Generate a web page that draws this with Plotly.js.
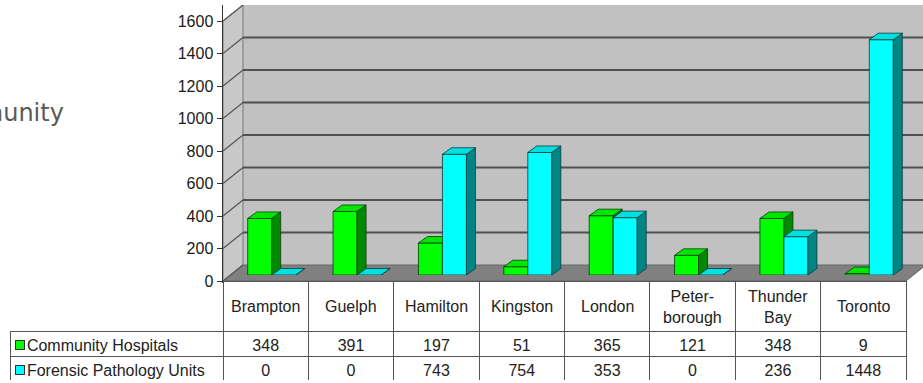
<!DOCTYPE html>
<html>
<head>
<meta charset="utf-8">
<script src="https://cdn.plot.ly/plotly-3.0.1.min.js"></script>
<style>html,body{margin:0;padding:0;background:#fff;}#chart{width:923px;height:383px;}</style>
</head>
<body>
<div id="chart"></div>
<script>
// ---- data ----
const cities = ['Brampton', 'Guelph', 'Hamilton', 'Kingston', 'London', 'Peter-<br>borough', 'Thunder<br>Bay', 'Toronto'];
const communityHospitals = [348, 391, 197, 51, 365, 121, 348, 9];
const forensicUnits = [0, 0, 743, 754, 353, 0, 236, 1448];
const seriesNames = ['Community Hospitals', 'Forensic Pathology Units'];
const yTickValues = [0, 200, 400, 600, 800, 1000, 1200, 1400, 1600];
const sideText = 'Community';

// ---- geometry / style ----
const W = 923, H = 383;
const FRONT_L = 223, FRONT_R = 906, FRONT_BASE = 281;
const TABLE_L = 10, HEADER_BOTTOM = 331, TABLE_BOTTOM = 381;
const PX_PER_UNIT = 260 / 1600;
const WALL_DX = 20, WALL_DY = 16;
const BAR_SHIFT = 6;
const BAR_DX_PX = 9, BAR_DY_PX = 6.5, BAR_W_PX = 24;
const catPx = (FRONT_R - FRONT_L) / cities.length;
const barW = BAR_W_PX / catPx;
const dxU = BAR_DX_PX / catPx;
const dyU = BAR_DY_PX / PX_PER_UNIT;
const wallDyU = WALL_DY / PX_PER_UNIT;
const px = x => x / W;
const py = y => 1 - y / H;
const idx = cities.map((_, i) => i);
const FONT = 'Liberation Sans, Arial, sans-serif';
const FS = 16;
const COLORS = {
  green: {front: '#00ff00', side: '#008a00', top: '#00e600', edge: '#0a3a0a'},
  cyan: {front: '#00ffff', side: '#008585', top: '#00e0e0', edge: '#0a3a3a'}
};

function faces(values, offset) {
  const side = {x: [], y: []}, top = {x: [], y: []};
  values.forEach((v, i) => {
    const xl = i + offset, xr = i + offset + barW;
    side.x.push(xr, xr + dxU, xr + dxU, xr, xr, null);
    side.y.push(0, dyU, v + dyU, v, 0, null);
    top.x.push(xl, xl + dxU, xr + dxU, xr, xl, null);
    top.y.push(v, v + dyU, v + dyU, v, v, null);
  });
  return {side, top};
}

function seriesTraces(values, offset, xa, ya, c, name) {
  const f = faces(values, offset);
  return [
    {type: 'bar', x: idx, y: values, xaxis: xa, yaxis: ya, name: name,
     width: barW, offset: offset,
     marker: {color: c.front, line: {color: c.edge, width: 0.8}}, hoverinfo: 'skip'},
    {type: 'scatter', mode: 'lines', x: f.side.x, y: f.side.y, xaxis: xa, yaxis: ya,
     fill: 'toself', fillcolor: c.side, line: {color: c.edge, width: 0.8}, hoverinfo: 'skip'},
    {type: 'scatter', mode: 'lines', x: f.top.x, y: f.top.y, xaxis: xa, yaxis: ya,
     fill: 'toself', fillcolor: c.top, line: {color: c.edge, width: 0.8}, hoverinfo: 'skip'}
  ];
}

const traces = [].concat(
  seriesTraces(communityHospitals, -barW, 'x', 'y', COLORS.green, seriesNames[0]),
  seriesTraces(forensicUnits, 0, 'x2', 'y2', COLORS.cyan, seriesNames[1])
);

// data table (header labels drawn as centred annotations below)
const NB = '\u00a0\u00a0';
const firstCol = [NB + seriesNames[0], NB + seriesNames[1]];
const cellCols = [firstCol].concat(idx.map(i => [String(communityHospitals[i]), String(forensicUnits[i])]));
const CLEAR = 'rgba(0,0,0,0)';
traces.push({
  type: 'table',
  domain: {x: [px(TABLE_L), px(FRONT_R)], y: [py(TABLE_BOTTOM), py(FRONT_BASE)]},
  columnwidth: [FRONT_L - TABLE_L].concat(idx.map(() => catPx)),
  header: {
    values: [''].concat(idx.map(() => '')),
    height: HEADER_BOTTOM - FRONT_BASE,
    fill: {color: [CLEAR].concat(idx.map(() => 'white'))},
    line: {color: [CLEAR].concat(idx.map(() => '#555')), width: 1},
    font: {family: FONT, size: FS, color: '#222'}
  },
  cells: {
    values: cellCols,
    height: (TABLE_BOTTOM - HEADER_BOTTOM) / 2,
    align: ['left'].concat(idx.map(() => 'center')),
    fill: {color: 'white'},
    line: {color: '#555', width: 1},
    font: {family: FONT, size: FS, color: '#222'}
  }
});

// shapes: walls and floor
function poly(pts) {
  return 'M' + pts.map(p => px(p[0]).toFixed(5) + ',' + py(p[1]).toFixed(5)).join('L') + 'Z';
}
const wallTop = FRONT_BASE - 260 - WALL_DY;
const shapes = [
  {type: 'path', xref: 'paper', yref: 'paper', layer: 'below',
   path: poly([[FRONT_L + WALL_DX, wallTop], [W, wallTop], [W, FRONT_BASE - WALL_DY], [FRONT_L + WALL_DX, FRONT_BASE - WALL_DY]]),
   fillcolor: '#c1c1c1', line: {width: 0}},
  {type: 'path', xref: 'paper', yref: 'paper', layer: 'below',
   path: poly([[FRONT_L, FRONT_BASE - 260], [FRONT_L + WALL_DX, wallTop], [FRONT_L + WALL_DX, FRONT_BASE - WALL_DY], [FRONT_L, FRONT_BASE]]),
   fillcolor: '#c8c8c8', line: {color: '#777', width: 1}},
  {type: 'path', xref: 'paper', yref: 'paper', layer: 'below',
   path: poly([[FRONT_L, FRONT_BASE], [FRONT_L + WALL_DX, FRONT_BASE - WALL_DY], [W + 3, FRONT_BASE - WALL_DY], [FRONT_R, FRONT_BASE]]),
   fillcolor: '#808080', line: {color: '#666', width: 1}}
];
yTickValues.forEach(v => {
  // depth line on the side wall
  shapes.push({type: 'line', xref: 'paper', yref: 'y3', layer: 'below',
    x0: px(FRONT_L), x1: px(FRONT_L + WALL_DX), y0: v, y1: v + wallDyU,
    line: {color: '#555', width: 1.2}});
  // gridline on the back wall
  if (v > 0 && v < 1600) {
    shapes.push({type: 'line', xref: 'paper', yref: 'y3', layer: 'below',
      x0: px(FRONT_L + WALL_DX), x1: 1, y0: v + wallDyU, y1: v + wallDyU,
      line: {color: '#505050', width: 2}});
  }
});

// annotations: category headers, legend keys, cut-off slide text
const annotations = idx.map(i => ({
  xref: 'x3', yref: 'paper', x: i, y: py((FRONT_BASE + HEADER_BOTTOM) / 2 + 0.5),
  xanchor: 'center', yanchor: 'middle', align: 'center', showarrow: false,
  text: cities[i], font: {family: FONT, size: FS, color: '#222'}
}));
const rowH = (TABLE_BOTTOM - HEADER_BOTTOM) / 2;
[COLORS.green.front, COLORS.cyan.front].forEach((col, r) => {
  annotations.push({xref: 'paper', yref: 'paper', x: px(TABLE_L + 10), y: py(HEADER_BOTTOM + rowH * (r + 0.5) + 1),
    xanchor: 'center', yanchor: 'middle', showarrow: false, text: '\u00a0',
    font: {size: 4}, width: 8, height: 8, bgcolor: col, bordercolor: '#333', borderwidth: 1, borderpad: 0});
});
annotations.push({xref: 'paper', yref: 'paper', x: px(66), y: py(113), xanchor: 'right', yanchor: 'middle',
  text: sideText, showarrow: false, font: {family: 'DejaVu Sans', size: 24, color: '#595959'}});

const layout = {
  width: W, height: H,
  margin: {l: 0, r: 0, t: 0, b: 0},
  paper_bgcolor: 'white', plot_bgcolor: 'rgba(0,0,0,0)',
  showlegend: false,
  barmode: 'overlay',
  font: {family: FONT, color: '#222'},
  xaxis: {domain: [px(FRONT_L + BAR_SHIFT), px(FRONT_R + BAR_SHIFT)], range: [-0.5, cities.length - 0.5],
          visible: false, fixedrange: true},
  yaxis: {domain: [py(FRONT_BASE - BAR_SHIFT), py(FRONT_BASE - BAR_SHIFT - 260)], range: [0, 1600],
          visible: false, fixedrange: true, anchor: 'x'},
  xaxis2: {overlaying: 'x', range: [-0.5, cities.length - 0.5], visible: false, anchor: 'y2'},
  yaxis2: {overlaying: 'y', range: [0, 1600], visible: false, anchor: 'x2'},
  xaxis3: {domain: [px(FRONT_L), px(FRONT_R)], range: [-0.5, cities.length - 0.5], anchor: 'y3',
           showline: true, linecolor: '#333', linewidth: 1.5, showgrid: false, zeroline: false,
           showticklabels: false, ticks: ''},
  yaxis3: {domain: [py(FRONT_BASE), py(wallTop)], range: [0, (FRONT_BASE - wallTop) / PX_PER_UNIT], anchor: 'x3',
           tickvals: yTickValues, ticks: 'outside', ticklen: 5, tickcolor: '#333',
           showline: true, linecolor: '#333', linewidth: 1.5, showgrid: false, zeroline: false,
           tickfont: {family: FONT, size: FS, color: '#1a1a1a'}},
  shapes: shapes,
  annotations: annotations
};

Plotly.newPlot('chart', traces, layout, {staticPlot: true, displayModeBar: false});
</script>
</body>
</html>
